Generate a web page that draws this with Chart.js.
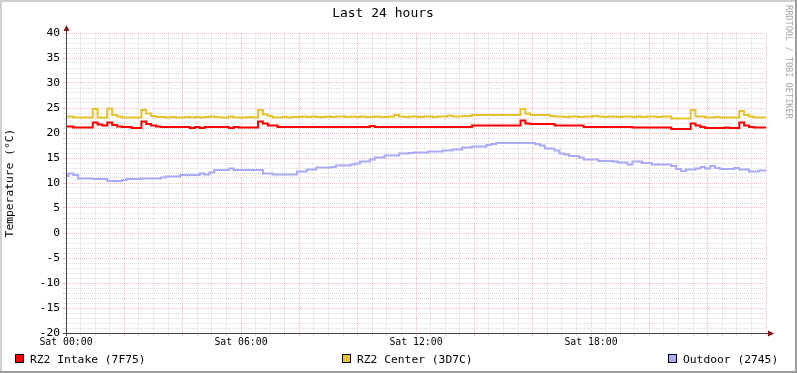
<!DOCTYPE html>
<html>
<head>
<meta charset="utf-8">
<script src="https://cdn.jsdelivr.net/npm/chart.js@4.4.1/dist/chart.umd.min.js"></script>
<style>
  html, body { margin: 0; padding: 0; background: #ffffff; }
  #wrap { width: 797px; height: 373px; }
</style>
</head>
<body>
<div id="wrap"><canvas id="c" width="797" height="373"></canvas></div>
<script>
// ---------- data ----------
const chartTitle = 'Last 24 hours';
const yAxisLabel = 'Temperature (°C)';
const creditText = 'RRDTOOL / TOBI OETIKER';
const dayName = 'Sat';
const stepMinutes = 10;              // sample spacing of the series below
const xTickHours = [0, 6, 12, 18];   // labelled x ticks
const yTickLabels = [-20, -15, -10, -5, 0, 5, 10, 15, 20, 25, 30, 35, 40];
const seriesNames = ['RZ2 Intake (7F75)', 'RZ2 Center (3D7C)', 'Outdoor (2745)'];
const seriesColors = ['#FF0000', '#E6C22C', '#AAAAF8'];

const intake = [
  21.3, 21.3, 21.1, 21.1, 21.1, 21.1, 22.1, 21.7, 21.5, 22.1, 21.6, 21.3,
  21.2, 21.2, 21.0, 21.0, 22.3, 21.8, 21.5, 21.3, 21.2, 21.2, 21.2, 21.2,
  21.2, 21.2, 21.0, 21.2, 21.0, 21.2, 21.2, 21.2, 21.2, 21.2, 21.0, 21.2,
  21.1, 21.1, 21.1, 21.1, 22.3, 21.9, 21.5, 21.5, 21.2, 21.2, 21.2, 21.2,
  21.2, 21.2, 21.2, 21.2, 21.2, 21.2, 21.2, 21.2, 21.2, 21.2, 21.2, 21.2,
  21.2, 21.2, 21.2, 21.4, 21.2, 21.2, 21.2, 21.2, 21.2, 21.2, 21.2, 21.2,
  21.2, 21.2, 21.2, 21.2, 21.2, 21.2, 21.2, 21.2, 21.2, 21.2, 21.2, 21.2,
  21.5, 21.5, 21.5, 21.5, 21.5, 21.5, 21.5, 21.5, 21.5, 21.5, 22.5, 21.9,
  21.8, 21.8, 21.8, 21.8, 21.8, 21.5, 21.5, 21.5, 21.5, 21.5, 21.5, 21.2,
  21.2, 21.2, 21.2, 21.2, 21.2, 21.2, 21.2, 21.2, 21.2, 21.1, 21.1, 21.1,
  21.1, 21.1, 21.1, 21.1, 21.1, 20.8, 20.8, 20.8, 20.8, 21.9, 21.5, 21.2,
  21.0, 21.0, 21.0, 21.0, 21.1, 21.0, 21.0, 22.1, 21.5, 21.2, 21.1, 21.1,
  21.1
];
const center = [
  23.3, 23.3, 23.1, 23.1, 23.1, 23.1, 24.8, 23.1, 23.1, 24.9, 23.6, 23.3,
  23.1, 23.1, 23.1, 23.1, 24.6, 23.9, 23.4, 23.2, 23.2, 23.1, 23.2, 23.1,
  23.1, 23.2, 23.1, 23.2, 23.1, 23.2, 23.3, 23.2, 23.1, 23.1, 23.3, 23.1,
  23.1, 23.1, 23.2, 23.1, 24.6, 23.7, 23.4, 23.1, 23.1, 23.2, 23.1, 23.2,
  23.2, 23.3, 23.2, 23.3, 23.2, 23.2, 23.3, 23.2, 23.3, 23.3, 23.2, 23.3,
  23.2, 23.3, 23.2, 23.2, 23.3, 23.2, 23.2, 23.3, 23.6, 23.3, 23.2, 23.3,
  23.3, 23.2, 23.3, 23.3, 23.2, 23.3, 23.3, 23.5, 23.3, 23.3, 23.4, 23.4,
  23.6, 23.6, 23.6, 23.6, 23.6, 23.6, 23.6, 23.6, 23.6, 23.6, 24.8, 23.9,
  23.6, 23.6, 23.6, 23.6, 23.4, 23.3, 23.3, 23.2, 23.3, 23.3, 23.2, 23.3,
  23.3, 23.4, 23.3, 23.2, 23.3, 23.3, 23.2, 23.3, 23.3, 23.2, 23.3, 23.2,
  23.3, 23.3, 23.2, 23.3, 23.3, 22.9, 22.9, 22.9, 22.9, 24.6, 23.3, 23.3,
  23.1, 23.1, 23.2, 23.1, 23.1, 23.1, 23.1, 24.4, 23.6, 23.3, 23.1, 23.1,
  23.1
];
const outdoor = [
  11.4, 11.9, 11.6, 10.9, 10.9, 10.9, 10.8, 10.8, 10.8, 10.4, 10.4, 10.4,
  10.6, 10.8, 10.8, 10.8, 10.9, 10.9, 10.9, 10.9, 11.1, 11.3, 11.3, 11.3,
  11.6, 11.6, 11.6, 11.6, 11.9, 11.7, 12.1, 12.6, 12.6, 12.6, 12.9, 12.6,
  12.6, 12.6, 12.6, 12.6, 12.6, 11.9, 11.9, 11.7, 11.7, 11.7, 11.7, 11.7,
  12.3, 12.3, 12.7, 12.7, 13.1, 13.1, 13.1, 13.2, 13.5, 13.5, 13.5, 13.7,
  13.9, 14.3, 14.3, 14.7, 15.1, 15.1, 15.5, 15.5, 15.5, 15.9, 15.9, 16.0,
  16.1, 16.1, 16.1, 16.3, 16.3, 16.3, 16.5, 16.5, 16.7, 16.7, 17.1, 17.1,
  17.3, 17.3, 17.3, 17.6, 17.8, 18.0, 18.0, 18.0, 18.0, 18.0, 18.0, 18.0,
  18.0, 17.8, 17.5, 16.9, 16.9, 16.5, 15.9, 15.7, 15.4, 15.4, 15.1, 14.7,
  14.7, 14.7, 14.4, 14.4, 14.4, 14.3, 14.1, 14.1, 13.7, 14.3, 14.3, 14.0,
  14.0, 13.7, 13.7, 13.7, 13.7, 13.4, 12.8, 12.4, 12.7, 12.7, 12.9, 13.2,
  12.9, 13.4, 13.0, 12.8, 12.8, 12.8, 13.0, 12.7, 12.7, 12.3, 12.3, 12.5,
  12.5
];
const seriesValues = [intake, center, outdoor];

// ---------- chart ----------
const MONO = "'DejaVu Sans Mono', monospace";
Chart.defaults.font.family = MONO;
Chart.defaults.color = '#000000';

const toPoints = (arr) => arr.map((v, i) => ({ x: i * stepMinutes / 60, y: v }));

const isMultiple = (v, m) => Math.abs(v / m - Math.round(v / m)) < 1e-6;
const MAJOR = 'rgba(230, 70, 70, 0.34)';
const MINOR = 'rgba(150, 150, 150, 0.32)';

const decor = {
  id: 'decor',
  beforeDraw(chart) {
    const ctx = chart.ctx;
    ctx.save();
    ctx.fillStyle = '#FFFFFF';
    ctx.fillRect(0, 0, chart.width, chart.height);
    ctx.restore();
  },
  afterDraw(chart) {
    const ctx = chart.ctx;
    const a = chart.chartArea;
    ctx.save();
    // axes
    ctx.strokeStyle = '#4A4040';
    ctx.lineWidth = 1;
    ctx.beginPath();
    ctx.moveTo(a.left + 0.5, a.bottom + 3);
    ctx.lineTo(a.left + 0.5, a.top - 3);
    ctx.moveTo(a.left - 3, a.bottom + 0.5);
    ctx.lineTo(a.right + 4, a.bottom + 0.5);
    ctx.stroke();
    // arrows
    ctx.fillStyle = '#7F1818';
    ctx.beginPath();
    ctx.moveTo(a.left + 0.5, a.top - 8);
    ctx.lineTo(a.left - 2.5, a.top - 2);
    ctx.lineTo(a.left + 3.5, a.top - 2);
    ctx.closePath();
    ctx.fill();
    ctx.beginPath();
    ctx.moveTo(a.right + 8, a.bottom + 0.5);
    ctx.lineTo(a.right + 2, a.bottom - 2.5);
    ctx.lineTo(a.right + 2, a.bottom + 3.5);
    ctx.closePath();
    ctx.fill();

    // legend
    const legendX = [15, 342, 668];
    ctx.font = '11.3px ' + MONO;
    ctx.textBaseline = 'alphabetic';
    ctx.textAlign = 'left';
    chart.data.datasets.forEach((ds, i) => {
      const x = legendX[i];
      ctx.fillStyle = ds.borderColor;
      ctx.fillRect(x, 354, 9, 9);
      ctx.strokeStyle = '#000000';
      ctx.strokeRect(x + 0.5, 354.5, 8, 8);
      ctx.fillStyle = '#000000';
      ctx.fillText(ds.label, x + 15, 363);
    });

    // credit text
    ctx.save();
    ctx.translate(788, 5);
    ctx.rotate(Math.PI / 2);
    ctx.font = '8.6px ' + MONO;
    ctx.fillStyle = '#A8A8A8';
    ctx.textBaseline = 'middle';
    ctx.fillText(creditText, 0, 0);
    ctx.restore();

    // frame shading
    ctx.fillStyle = '#CFCFCF';
    ctx.fillRect(0, 0, chart.width, 2);
    ctx.fillRect(0, 0, 2, chart.height);
    ctx.fillStyle = '#9E9E9E';
    ctx.fillRect(0, chart.height - 2, chart.width, 2);
    ctx.fillRect(chart.width - 2, 0, 2, chart.height);
    ctx.restore();
  }
};

new Chart(document.getElementById('c'), {
  type: 'line',
  data: {
    datasets: seriesValues.map((vals, i) => ({
      label: seriesNames[i],
      data: toPoints(vals),
      borderColor: seriesColors[i],
      backgroundColor: seriesColors[i],
      borderWidth: 2,
      pointRadius: 0,
      stepped: 'middle',
      fill: false
    }))
  },
  options: {
    responsive: false,
    animation: false,
    events: [],
    layout: { padding: { left: 0, right: 31, top: 0, bottom: 0 } },
    plugins: {
      legend: { display: false },
      tooltip: { enabled: false },
      title: {
        display: true,
        text: chartTitle,
        color: '#000000',
        font: { family: MONO, size: 13, weight: 'normal' },
        padding: { top: 6, bottom: 11.4 }
      }
    },
    scales: {
      x: {
        type: 'linear',
        min: 0,
        max: 24,
        afterFit(s) { s.height = 40; },
        ticks: {
          stepSize: 0.5,
          autoSkip: false,
          maxRotation: 0,
          minRotation: 0,
          padding: 1,
          color: '#000000',
          font: { family: MONO, size: 9.8 },
          callback(v) {
            const h = Math.round(v);
            if (isMultiple(v, 1) && xTickHours.includes(h)) {
              return dayName + ' ' + String(h).padStart(2, '0') + ':00';
            }
            return '';
          }
        },
        grid: {
          color: (c) => isMultiple(c.tick.value, 2) ? MAJOR : MINOR,
          tickColor: (c) => isMultiple(c.tick.value, 2) ? MAJOR : MINOR,
          lineWidth: 1,
          tickLength: 3
        },
        border: { display: false, dash: [1, 1] }
      },
      y: {
        min: -20,
        max: 40,
        afterFit(s) { s.width = 66; },
        ticks: {
          stepSize: 1,
          autoSkip: false,
          padding: 3,
          color: '#000000',
          font: { family: MONO, size: 11.3 },
          callback(v) { return yTickLabels.includes(v) ? String(v) : ''; }
        },
        grid: {
          color: (c) => isMultiple(c.tick.value, 5) ? MAJOR : MINOR,
          tickColor: (c) => isMultiple(c.tick.value, 5) ? MAJOR : MINOR,
          lineWidth: 1,
          tickLength: 3
        },
        border: { display: false, dash: [1, 1] },
        title: {
          display: true,
          text: yAxisLabel,
          color: '#000000',
          font: { family: MONO, size: 11.3 },
          padding: { top: 3, bottom: 0 }
        }
      }
    }
  },
  plugins: [decor]
});
</script>
</body>
</html>
